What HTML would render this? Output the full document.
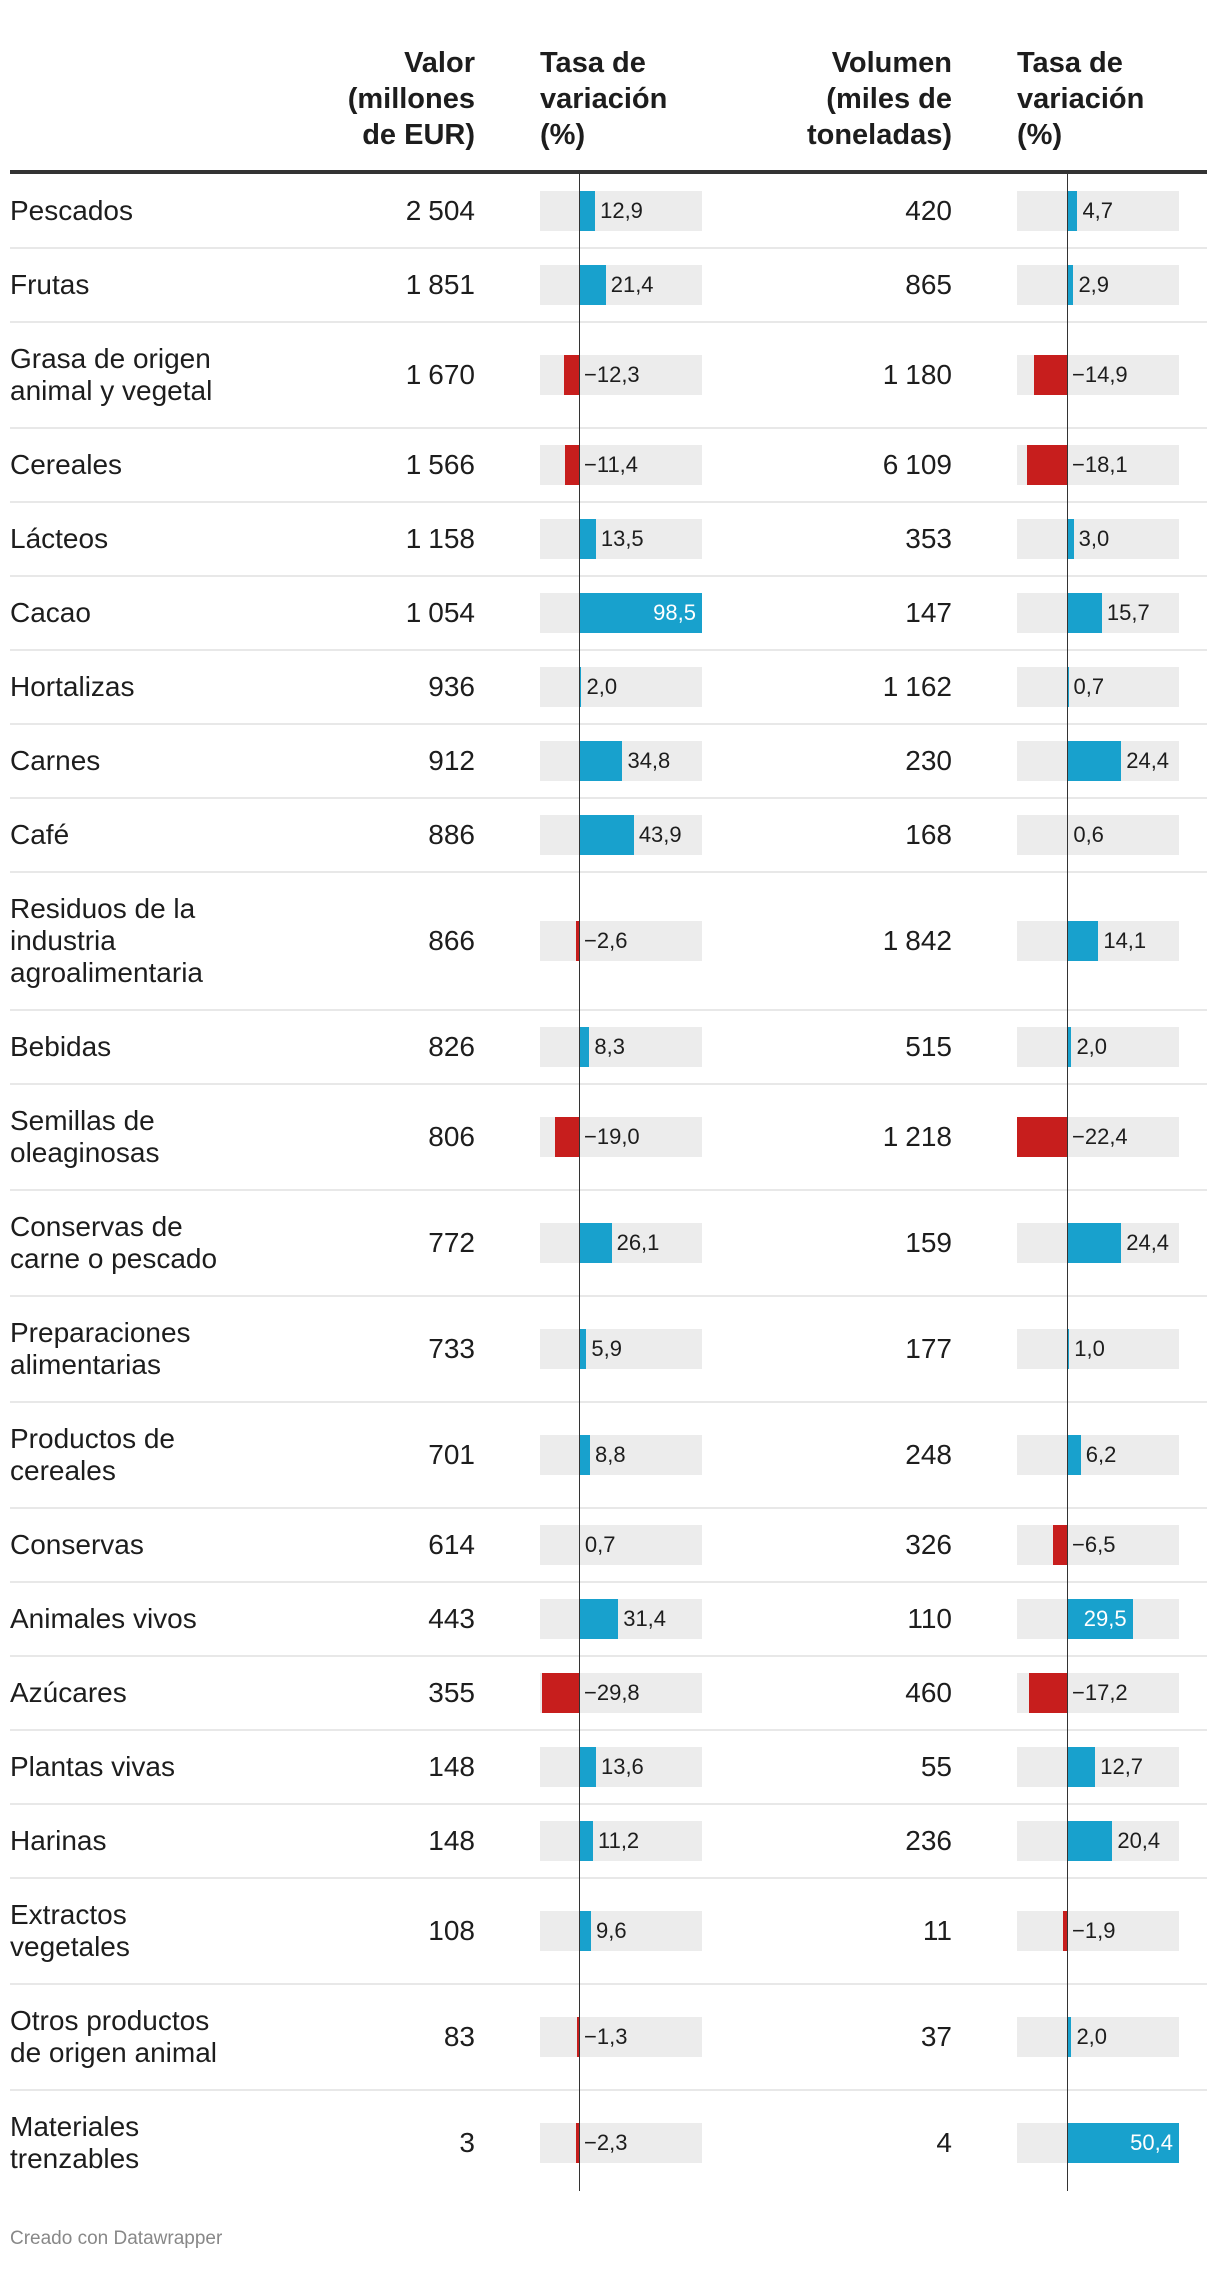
<!DOCTYPE html>
<html><head><meta charset="utf-8">
<style>
body{margin:0;background:#fff;width:1220px;height:2270px;position:relative;overflow:hidden;font-family:"Liberation Sans",Arial,sans-serif;color:#1d1d1d}
.a{position:absolute}
.h{font-weight:bold;font-size:29px;line-height:36px;top:45px}
.lbl{font-size:28px;line-height:32px;left:10px}
.num{font-size:28px;line-height:32px;text-align:right}
.vl{font-size:22px;line-height:40px;white-space:nowrap}
</style></head>
<body>
<div class="a h" style="right:745px;text-align:right">Valor<br>(millones<br>de EUR)</div>
<div class="a h" style="left:540px">Tasa de<br>variación<br>(%)</div>
<div class="a h" style="right:268px;text-align:right">Volumen<br>(miles de<br>toneladas)</div>
<div class="a h" style="left:1017px">Tasa de<br>variación<br>(%)</div>
<div class="a" style="left:10px;top:170px;width:1197px;height:4px;background:#333"></div>
<div id="t"></div>
<div class="a" style="left:10px;top:2228px;font-size:19px;color:#888">Creado con Datawrapper</div>
<script>
const labels=[["Pescados"],["Frutas"],["Grasa de origen","animal y vegetal"],["Cereales"],["Lácteos"],["Cacao"],["Hortalizas"],["Carnes"],["Café"],["Residuos de la","industria","agroalimentaria"],["Bebidas"],["Semillas de","oleaginosas"],["Conservas de","carne o pescado"],["Preparaciones","alimentarias"],["Productos de","cereales"],["Conservas"],["Animales vivos"],["Azúcares"],["Plantas vivas"],["Harinas"],["Extractos","vegetales"],["Otros productos","de origen animal"],["Materiales","trenzables"]];
const valor=[2504,1851,1670,1566,1158,1054,936,912,886,866,826,806,772,733,701,614,443,355,148,148,108,83,3];
const tasaValor=[12.9,21.4,-12.3,-11.4,13.5,98.5,2.0,34.8,43.9,-2.6,8.3,-19.0,26.1,5.9,8.8,0.7,31.4,-29.8,13.6,11.2,9.6,-1.3,-2.3];
const volumen=[420,865,1180,6109,353,147,1162,230,168,1842,515,1218,159,177,248,326,110,460,55,236,11,37,4];
const tasaVolumen=[4.7,2.9,-14.9,-18.1,3.0,15.7,0.7,24.4,0.6,14.1,2.0,-22.4,24.4,1.0,6.2,-6.5,29.5,-17.2,12.7,20.4,-1.9,2.0,50.4];
const cols=[{vals:tasaValor,bg0:540,bg1:702,zero:579,k:123/98.5,name:'valor'},{vals:tasaVolumen,bg0:1017,bg1:1179,zero:1067,k:112/50.4,name:'volumen'}];
const T=document.getElementById('t');
function fmtInt(n){return String(n).replace(/\B(?=(\d{3})+(?!\d))/g,'\u2005');}
function fmtDec(v){return (v<0?'\u2212':'')+Math.abs(v).toFixed(1).replace('.',',');}
function div(css,txt){const d=document.createElement('div');d.className='a '+(css.c||'');d.style.cssText=css.s;if(txt!==undefined)d.textContent=txt;T.appendChild(d);return d;}
let y=174;const top0=y;
labels.forEach((L,i)=>{
  const h=74+32*(L.length-1);const cy=y+h/2;
  const lb=div({c:'lbl',s:`top:${cy-16*L.length}px`});lb.innerHTML=L.join('<br>');
  
  
  const v=div({c:'num',s:`right:745px;top:${cy-16}px`},fmtInt(valor[i]));
  
  
  const w=div({c:'num',s:`right:268px;top:${cy-16}px`},fmtInt(volumen[i]));
  
  
  cols.forEach(c=>{
    const val=c.vals[i];
    const bg=div({s:`left:${c.bg0}px;width:${c.bg1-c.bg0}px;top:${cy-20}px;height:40px;background:#ececec`});
    
    
    const len=Math.abs(val)*c.k;const x0=val<0?c.zero-len:c.zero;
    const b=div({s:`left:${x0}px;width:${Math.max(len,1)}px;top:${cy-20}px;height:40px;background:${val<0?'#c71e1d':'#18a1cd'}`});
    
    
    const end=val<0?c.zero:c.zero+len;
    let lab;
    if(val>0 && end+52>c.bg1){lab=div({c:'vl',s:`right:${1220-end+6}px;top:${cy-20}px;color:#fff`},fmtDec(val));}
    else{lab=div({c:'vl',s:`left:${end+5}px;top:${cy-20}px`},fmtDec(val));}
    
    
  });
  if(i<labels.length-1){const s=div({s:`left:10px;width:1197px;top:${y+h-1}px;height:2px;background:#e8e8e8`});
    
    }
  y+=h;
});
cols.forEach(c=>{const ax=div({s:`left:${c.zero}px;width:1px;top:${top0}px;height:${y-top0-5}px;background:#333`});
  
  });
</script>
</body></html>
